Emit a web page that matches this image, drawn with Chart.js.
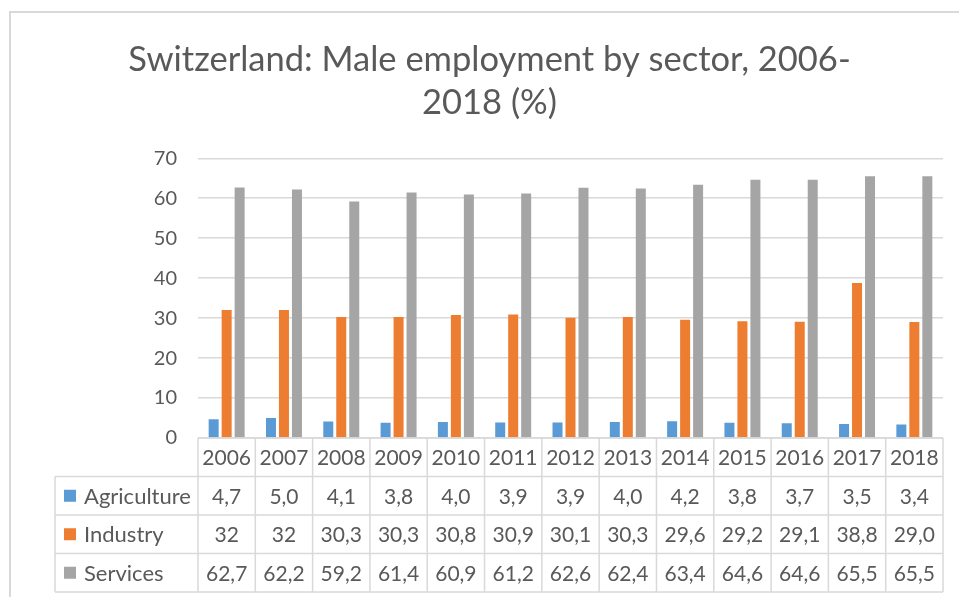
<!DOCTYPE html>
<html>
<head>
<meta charset="utf-8">
<script src="https://cdn.jsdelivr.net/npm/chart.js@4.4.0/dist/chart.umd.min.js"></script>
<style>
  html, body { margin: 0; padding: 0; background: #fff; }
  canvas { display: block; }
</style>
</head>
<body>
<canvas id="chart" width="959" height="597"></canvas>
<script>
const years = ["2006", "2007", "2008", "2009", "2010", "2011", "2012", "2013", "2014", "2015", "2016", "2017", "2018"];
// values as printed in the data table (comma decimals)
const agriculture = ["4,7", "5,0", "4,1", "3,8", "4,0", "3,9", "3,9", "4,0", "4,2", "3,8", "3,7", "3,5", "3,4"];
const industry = ["32", "32", "30,3", "30,3", "30,8", "30,9", "30,1", "30,3", "29,6", "29,2", "29,1", "38,8", "29,0"];
const services = ["62,7", "62,2", "59,2", "61,4", "60,9", "61,2", "62,6", "62,4", "63,4", "64,6", "64,6", "65,5", "65,5"];
const yTicks = [0, 10, 20, 30, 40, 50, 60, 70];

const toNum = (s) => parseFloat(s.replace(",", "."));
const FONT = "Lato, 'Open Sans', sans-serif";
const TEXT = "#595959";
const LINE = "#D9D9D9";

const series = [
  { label: "Agriculture", text: agriculture, color: "#5B9BD5" },
  { label: "Industry", text: industry, color: "#ED7D31" },
  { label: "Services", text: services, color: "#A5A5A5" },
];

// outer frame + data table under the plot
const tablePlugin = {
  id: "dataTable",
  beforeDraw(chart) {
    const ctx = chart.ctx;
    ctx.save();
    ctx.strokeStyle = LINE;
    ctx.lineWidth = 2;
    ctx.strokeRect(10, 12, 1000, 1000);
    ctx.restore();
  },
  afterDraw(chart) {
    const ctx = chart.ctx;
    const x = chart.scales.x;
    const area = chart.chartArea;
    const colW = (area.right - area.left) / years.length;
    const rowH = 38.5;
    const top = area.bottom;
    const legendLeft = 55;

    ctx.save();
    ctx.strokeStyle = LINE;
    ctx.lineWidth = 1.5;

    // horizontal lines
    ctx.beginPath();
    ctx.moveTo(area.left, top);
    ctx.lineTo(area.right, top);
    for (let r = 1; r <= 4; r++) {
      const y = top + r * rowH;
      ctx.moveTo(legendLeft, y);
      ctx.lineTo(area.right, y);
    }
    // vertical lines
    for (let i = 0; i <= years.length; i++) {
      const cx = area.left + i * colW;
      ctx.moveTo(cx, top);
      ctx.lineTo(cx, top + 4 * rowH);
    }
    ctx.moveTo(legendLeft, top + rowH);
    ctx.lineTo(legendLeft, top + 4 * rowH);
    ctx.stroke();

    ctx.fillStyle = TEXT;
    ctx.font = "21px " + FONT;
    ctx.textAlign = "center";
    ctx.textBaseline = "middle";
    years.forEach((yr, i) => {
      ctx.fillText(yr, x.getPixelForValue(i), top + rowH / 2 + 1);
    });
    series.forEach((s, r) => {
      const cy = top + (r + 1.5) * rowH + 1;
      ctx.font = "21px " + FONT;
      s.text.forEach((t, i) => {
        ctx.fillText(t, x.getPixelForValue(i), cy);
      });
      ctx.fillStyle = s.color;
      ctx.fillRect(64, cy - 7, 12, 12);
      ctx.fillStyle = TEXT;
      ctx.textAlign = "left";
      ctx.font = "22px " + FONT;
      ctx.fillText(s.label, 84, cy);
      ctx.textAlign = "center";
    });
    ctx.restore();
  },
};

const chart = new Chart(document.getElementById("chart"), {
  type: "bar",
  data: {
    labels: years,
    datasets: series.map((s) => ({
      label: s.label,
      data: s.text.map(toNum),
      backgroundColor: s.color,
      categoryPercentage: 0.68,
      barPercentage: 0.77,
    })),
  },
  options: {
    responsive: false,
    animation: false,
    layout: { padding: { left: 36, right: 16, top: 12, bottom: 151 } },
    plugins: {
      legend: { display: false },
      tooltip: { enabled: false },
      title: {
        display: true,
        text: ["Switzerland: Male employment by sector, 2006-", "2018 (%)"],
        color: TEXT,
        font: { family: FONT, size: 34.5, weight: "normal", lineHeight: 1.25 },
        padding: { top: 26, bottom: 34 },
      },
    },
    scales: {
      x: {
        ticks: { display: false },
        grid: { display: false },
        border: { display: false },
      },
      y: {
        min: 0,
        max: 70,
        afterBuildTicks(scale) {
          scale.ticks = yTicks.map((v) => ({ value: v }));
        },
        afterFit(scale) {
          scale.width = 162;
        },
        ticks: {
          color: TEXT,
          padding: 21,
          font: { family: FONT, size: 20 },
        },
        grid: { color: LINE, lineWidth: 1.5, drawTicks: false },
        border: { display: false },
      },
    },
  },
  plugins: [tablePlugin],
});
</script>
</body>
</html>
